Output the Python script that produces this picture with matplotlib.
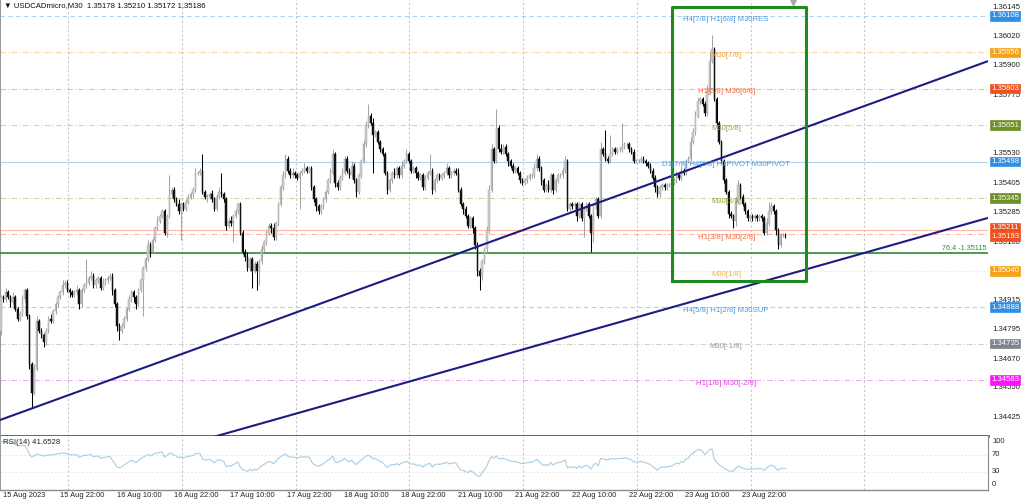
import numpy as np
import matplotlib
matplotlib.use('Agg')
import matplotlib.pyplot as plt
from matplotlib.transforms import blended_transform_factory

plt.rcParams['font.family'] = ['Liberation Sans', 'DejaVu Sans']

# ---------------- data (M30 candles, 15 Aug 2023 -> 24 Aug 2023) ----------------
first_open = 1.3479
closes = [
    1.3493, 1.3492, 1.3495, 1.3493, 1.3491, 1.3493, 1.3488, 1.3484, 1.3486, 1.3492, 1.3496, 1.3485, 1.3465, 1.3453, 1.3463, 1.3483, 1.3479, 1.3477, 1.3474, 1.3479,
    1.3484, 1.3483, 1.3487, 1.3490, 1.3493, 1.3495, 1.3498, 1.3499, 1.3496, 1.3495, 1.3494, 1.3495, 1.3496, 1.3490, 1.3496, 1.3498, 1.3499, 1.3501, 1.3502, 1.3498,
    1.3500, 1.3501, 1.3497, 1.3499, 1.3500, 1.3501, 1.3502, 1.3496, 1.3490, 1.3481, 1.3479, 1.3481, 1.3484, 1.3488, 1.3492, 1.3495, 1.3493, 1.3490, 1.3496, 1.3500,
    1.3505, 1.3509, 1.3515, 1.3512, 1.3517, 1.3522, 1.3525, 1.3527, 1.3529, 1.3520, 1.3527, 1.3536, 1.3538, 1.3534, 1.3532, 1.3529, 1.3532, 1.3530, 1.3533, 1.3535,
    1.3536, 1.3538, 1.3545, 1.3545, 1.3546, 1.3537, 1.3535, 1.3535, 1.3536, 1.3534, 1.3530, 1.3535, 1.3537, 1.3536, 1.3534, 1.3523, 1.3525, 1.3524, 1.3527, 1.3529,
    1.3532, 1.3520, 1.3512, 1.3510, 1.3505, 1.3509, 1.3504, 1.3507, 1.3504, 1.3508, 1.3513, 1.3516, 1.3520, 1.3523, 1.3522, 1.3518, 1.3524, 1.3532, 1.3539, 1.3544,
    1.3551, 1.3546, 1.3544, 1.3545, 1.3544, 1.3543, 1.3545, 1.3546, 1.3547, 1.3546, 1.3547, 1.3539, 1.3534, 1.3531, 1.3529, 1.3531, 1.3534, 1.3537, 1.3542, 1.3545,
    1.3553, 1.3541, 1.3539, 1.3543, 1.3545, 1.3551, 1.3546, 1.3544, 1.3548, 1.3542, 1.3537, 1.3544, 1.3550, 1.3557, 1.3565, 1.3569, 1.3566, 1.3561, 1.3562, 1.3558,
    1.3555, 1.3553, 1.3545, 1.3538, 1.3542, 1.3545, 1.3544, 1.3547, 1.3544, 1.3548, 1.3550, 1.3553, 1.3550, 1.3546, 1.3547, 1.3545, 1.3543, 1.3544, 1.3539, 1.3543,
    1.3545, 1.3546, 1.3538, 1.3542, 1.3544, 1.3543, 1.3544, 1.3545, 1.3547, 1.3544, 1.3545, 1.3546, 1.3545, 1.3538, 1.3532, 1.3530, 1.3527, 1.3523, 1.3526, 1.3522,
    1.3515, 1.3504, 1.3502, 1.3508, 1.3513, 1.3521, 1.3538, 1.3555, 1.3550, 1.3564, 1.3555, 1.3554, 1.3556, 1.3553, 1.3550, 1.3548, 1.3546, 1.3547, 1.3545, 1.3542,
    1.3541, 1.3542, 1.3543, 1.3544, 1.3544, 1.3547, 1.3551, 1.3547, 1.3542, 1.3538, 1.3540, 1.3538, 1.3544, 1.3538, 1.3542, 1.3544, 1.3544, 1.3546, 1.3550, 1.3530,
    1.3532, 1.3531, 1.3532, 1.3527, 1.3532, 1.3526, 1.3530, 1.3532, 1.3527, 1.3520, 1.3531, 1.3534, 1.3527, 1.3555, 1.3553, 1.3551, 1.3550, 1.3553, 1.3555, 1.3554,
    1.3555, 1.3555, 1.3556, 1.3557, 1.3557, 1.3555, 1.3554, 1.3550, 1.3550, 1.3550, 1.3551, 1.3550, 1.3549, 1.3548, 1.3546, 1.3543, 1.3539, 1.3536, 1.3539, 1.3540,
    1.3539, 1.3540, 1.3540, 1.3541, 1.3542, 1.3544, 1.3543, 1.3546, 1.3545, 1.3550, 1.3551, 1.3558, 1.3562, 1.3569, 1.3575, 1.3576, 1.3574, 1.3570, 1.3579, 1.3592,
    1.3597, 1.3576, 1.3566, 1.3558, 1.3550, 1.3542, 1.3537, 1.3528, 1.3527, 1.3525, 1.3533, 1.3540, 1.3535, 1.3532, 1.3529, 1.3526, 1.3527, 1.3526, 1.3527, 1.3526,
    1.3527, 1.3526, 1.3520, 1.3524, 1.3529, 1.3531, 1.3529, 1.3521, 1.3515, 1.3519, 1.3519, 1.35186,
]
upper_wick_pips = [
    1, 1, 2, 1, 1, 2, 1, 1, 1, 2, 1, 1, 1, 1, 2, 2, 1, 1, 1, 1,
    1, 2, 1, 1, 1, 1, 2, 1, 1, 1, 1, 1, 2, 1, 1, 1, 10, 1, 2, 1,
    1, 1, 1, 2, 1, 1, 1, 1, 1, 1, 1, 1, 1, 1, 2, 1, 1, 1, 1, 1,
    1, 1, 2, 1, 1, 1, 2, 1, 1, 1, 1, 8, 1, 1, 1, 2, 1, 1, 1, 1,
    1, 1, 2, 1, 1, 7, 1, 1, 1, 2, 1, 1, 2, 8, 1, 1, 1, 2, 1, 1,
    1, 1, 1, 1, 2, 1, 1, 1, 1, 1, 2, 1, 1, 1, 1, 2, 1, 1, 1, 2,
    2, 1, 1, 2, 1, 1, 1, 1, 2, 1, 1, 1, 1, 1, 1, 1, 1, 1, 1, 2,
    2, 1, 1, 1, 2, 1, 1, 1, 2, 1, 1, 1, 1, 2, 2, 5, 1, 2, 1, 1,
    1, 1, 1, 1, 1, 1, 2, 1, 1, 2, 1, 2, 1, 1, 1, 1, 1, 1, 1, 1,
    1, 7, 1, 1, 1, 1, 1, 1, 2, 1, 1, 1, 1, 2, 1, 1, 1, 1, 1, 1,
    1, 1, 1, 1, 1, 2, 2, 2, 1, 8, 1, 2, 1, 1, 1, 1, 1, 1, 1, 1,
    1, 1, 1, 1, 1, 2, 2, 1, 1, 1, 1, 2, 1, 1, 1, 1, 1, 1, 2, 1,
    1, 1, 1, 1, 1, 1, 1, 1, 1, 1, 1, 1, 1, 3, 1, 10, 1, 8, 1, 1,
    1, 1, 10, 1, 1, 1, 1, 1, 1, 1, 1, 1, 1, 1, 1, 1, 1, 1, 1, 1,
    1, 1, 1, 1, 1, 2, 1, 2, 1, 1, 1, 2, 2, 2, 2, 1, 1, 1, 3, 4,
    6, 1, 1, 1, 1, 1, 1, 1, 1, 1, 2, 2, 1, 1, 1, 1, 1, 1, 1, 1,
    1, 1, 1, 2, 4, 2, 1, 1, 1, 1, 1, 1,
]
lower_wick_pips = [
    2, 1, 1, 1, 2, 1, 1, 1, 1, 1, 1, 1, 2, 6, 1, 1, 1, 1, 2, 1,
    1, 1, 1, 1, 1, 1, 1, 1, 1, 2, 1, 1, 1, 2, 1, 1, 1, 1, 1, 1,
    1, 1, 1, 1, 1, 1, 1, 2, 1, 2, 4, 1, 1, 1, 1, 1, 2, 2, 1, 1,
    15, 1, 1, 2, 1, 1, 1, 1, 1, 1, 2, 1, 1, 1, 1, 1, 12, 1, 1, 1,
    1, 1, 1, 1, 1, 1, 1, 2, 1, 1, 1, 1, 1, 1, 1, 2, 1, 1, 8, 1,
    1, 1, 1, 2, 1, 1, 7, 1, 8, 6, 1, 1, 1, 1, 2, 1, 1, 1, 1, 1,
    1, 1, 1, 1, 1, 1, 13, 1, 1, 1, 1, 1, 1, 2, 1, 1, 1, 1, 1, 1,
    1, 2, 1, 1, 1, 1, 1, 1, 1, 1, 2, 1, 1, 1, 1, 1, 1, 16, 1, 1,
    1, 1, 1, 2, 1, 1, 1, 1, 1, 1, 1, 1, 1, 1, 1, 2, 1, 1, 1, 1,
    1, 1, 2, 1, 1, 1, 1, 1, 1, 1, 1, 1, 1, 1, 1, 2, 1, 1, 1, 2,
    2, 2, 6, 2, 1, 1, 1, 1, 1, 1, 1, 1, 1, 1, 2, 1, 1, 1, 1, 1,
    1, 1, 1, 1, 1, 1, 1, 1, 2, 1, 1, 1, 1, 2, 1, 1, 1, 1, 1, 1,
    1, 1, 1, 2, 1, 1, 8, 1, 1, 8, 4, 1, 1, 1, 1, 1, 1, 1, 1, 1,
    1, 1, 1, 1, 1, 1, 1, 1, 1, 1, 1, 1, 1, 1, 1, 1, 2, 1, 1, 1,
    1, 1, 1, 1, 1, 1, 1, 1, 1, 1, 1, 1, 1, 1, 1, 1, 1, 1, 1, 1,
    1, 1, 1, 1, 1, 1, 1, 2, 1, 3, 2, 1, 1, 1, 1, 1, 1, 1, 1, 1,
    1, 1, 1, 1, 1, 1, 1, 2, 2, 1, 1, 1,
]

time_labels = ['15 Aug 2023', '15 Aug 22:00', '16 Aug 10:00', '16 Aug 22:00', '17 Aug 10:00',
               '17 Aug 22:00', '18 Aug 10:00', '18 Aug 22:00', '21 Aug 10:00', '21 Aug 22:00',
               '22 Aug 10:00', '22 Aug 22:00', '23 Aug 10:00', '23 Aug 22:00']
label_bar_step = 24
day_grid_bars = [28.3, 76.3, 124.3, 172.3, 220.3, 268.3, 316.3, 364.3]

price_ticks = [1.36145, 1.36020, 1.35900, 1.35775, 1.35530, 1.35405, 1.35285, 1.35160,
               1.34915, 1.34795, 1.34670, 1.34550, 1.34425]

level_prices = [1.36108, 1.35956, 1.35803, 1.35651, 1.35498, 1.35345, 1.35211, 1.35193,
                1.35040, 1.34888, 1.34735, 1.34583]
level_texts = ['H4[7/8] H1[6/8] M30RES', 'M30[7/8]', 'H1[5/8] M30[6/8]', 'M30[5/8]',
               'D1[7/8] H4[6/8] H1PIVOT M30PIVOT', 'M30[3/8]', '', 'H1[3/8] M30[2/8]',
               'M30[1/8]', 'H4[5/8] H1[2/8] M30SUP', 'M30[-1/8]', 'H1[1/8] M30[-2/8]']
level_text_colors = ['#4a9be0', '#f0a030', '#f06a40', '#8fa840', '#4a9be0', '#8fa840', '#f06a40',
                     '#f06a40', '#f5b040', '#4a9be0', '#9a9a9a', '#e040e0']
level_box_colors = ['#2f8fe6', '#f5a21a', '#f0501e', '#6f8f2a', '#2f8fe6', '#6f8f2a', '#f0501e',
                    '#f0501e', '#f5a21a', '#2f8fe6', '#7a8590', '#ff10ff']
level_styles = [(0, (4, 3)), (0, (5, 2, 1, 2)), (0, (5, 2, 1, 2)), (0, (5, 2, 1, 2)), '-',
                (0, (5, 2, 1, 2)), '-', (0, (5, 2, 1, 2)), (0, (1, 2)), (0, (4, 3)),
                (0, (5, 2, 1, 2)), (0, (5, 2, 1, 2))]
# small vertical nudges (points) for the two crowded right-hand price boxes
box_nudge_pt = [0, 0, 0, 0, 0, 0, 1.6, -1.6, 0, 0, 0, 0]

fib_price = 1.35115
fib_text = '76.4 -1.35115'
box_bars = (283.1, 339.7)
box_prices = (1.34998, 1.36146)
trend1 = ((-0.42, 1.34415), (416.5, 1.35919))
trend2 = ((90.0, 1.34345), (416.5, 1.35262))
title_text = '\u25BC USDCADmicro,M30  1.35178 1.35210 1.35172 1.35186'
rsi_text = 'RSI(14) 41.6528'
rsi_ticks = [100, 70, 30, 0]

# ---------------- derived candle arrays ----------------
c = np.array(closes)
n = len(c)
xb = np.arange(n)
o = np.r_[first_open, c[:-1]]
hi = np.maximum(o, c) + np.array(upper_wick_pips) * 1e-4
lo = np.minimum(o, c) - np.array(lower_wick_pips) * 1e-4
bull = c >= o

# RSI(14), Wilder smoothing
d = np.diff(np.r_[first_open, c])
gain = np.clip(d, 0, None)
loss = np.clip(-d, 0, None)
ag = np.zeros(n); al = np.zeros(n)
ag[0] = gain[0] if gain[0] > 0 else 1e-5
al[0] = loss[0] if loss[0] > 0 else 1e-5
for i in range(1, n):
    ag[i] = (ag[i-1] * 13 + gain[i]) / 14
    al[i] = (al[i-1] * 13 + loss[i]) / 14
rsi = 100 - 100 / (1 + ag / al)

# ---------------- figure ----------------
W, H = 1024, 500
fig = plt.figure(figsize=(W/100, H/100), dpi=100)
fig.patch.set_facecolor('white')
ax = fig.add_axes([0, 64/H, 988/W, 436/H])
axr = fig.add_axes([0, 10/H, 988/W, 54/H])

xlim = (-0.42, 416.46)
ax.set_xlim(*xlim)
ax.set_ylim(1.34348, 1.36175)
axr.set_xlim(*xlim)
axr.set_ylim(-11.5, 112.6)

for a in (ax, axr):
    a.set_xticks([]); a.set_yticks([])
    for s in ('top', 'left', 'right', 'bottom'):
        a.spines[s].set_visible(False)
    for gx in day_grid_bars:
        a.axvline(gx, color='#c8c8c8', lw=0.8, ls=(0, (2, 2)), zorder=0)

ax.spines['left'].set_visible(True); ax.spines['left'].set_color('#9a9a9a'); ax.spines['left'].set_linewidth(1.5)
ax.spines['bottom'].set_visible(True); ax.spines['bottom'].set_color('#3a3a3a'); ax.spines['bottom'].set_linewidth(1.8)
axr.spines['left'].set_visible(True); axr.spines['left'].set_color('#9a9a9a'); axr.spines['left'].set_linewidth(1.5)
axr.spines['bottom'].set_visible(True); axr.spines['bottom'].set_color('#8a8a8a'); axr.spines['bottom'].set_linewidth(1.0)
axr.spines['right'].set_visible(True); axr.spines['right'].set_color('#8a8a8a'); axr.spines['right'].set_linewidth(0.8)

# level lines
for p, col, ls in zip(level_prices, level_text_colors, level_styles):
    ax.axhline(p, color=col, lw=0.8, ls=ls, alpha=0.45, zorder=1)

# fib line
ax.axhline(fib_price, color='#2e8b2e', lw=1.2, zorder=3)
ax.annotate(fib_text, xy=(1.0, fib_price), xycoords=blended_transform_factory(ax.transAxes, ax.transData),
            xytext=(-1, 3), textcoords='offset points', ha='right', va='center', fontsize=5.2, color='#2e8b2e')

# candles
wick_cols = np.where(bull, '#a4a4a4', '#000000')
ax.vlines(xb, lo, hi, colors=wick_cols, lw=0.75, zorder=4)
body_b = np.minimum(o, c)
body_h = np.maximum(np.abs(c - o), 0.00002)
ax.bar(xb[bull], body_h[bull], bottom=body_b[bull], width=0.64, color='#cccccc', edgecolor='#a8a8a8', lw=0.35, zorder=5)
ax.bar(xb[~bull], body_h[~bull], bottom=body_b[~bull], width=0.64, color='#111111', edgecolor='#111111', lw=0.35, zorder=5)

# trend lines
for (x1, y1), (x2, y2) in (trend1, trend2):
    ax.plot([x1, x2], [y1, y2], color='#1c1c82', lw=1.5, zorder=6, solid_capstyle='butt')

# green rectangle
ax.plot([box_bars[0], box_bars[1], box_bars[1], box_bars[0], box_bars[0]],
        [box_prices[0], box_prices[0], box_prices[1], box_prices[1], box_prices[0]],
        color='#1f8a1f', lw=2.2, zorder=7)

# level labels in chart
for p, t, col in zip(level_prices, level_texts, level_text_colors):
    if t:
        ax.annotate(t, xy=(306, p), xytext=(0, -2.3), textcoords='offset points',
                    ha='center', va='center', fontsize=5.6, color=col, zorder=8)

# marker triangle at top
ax.plot([334.2], [1.36168], marker='v', color='#a8a8a8', ms=5, zorder=8)

# right axis labels
bt = blended_transform_factory(ax.transAxes, ax.transData)
for p in price_ticks:
    ax.text(1 + 4/988, p, f'{p:.5f}', transform=bt, ha='left', va='center', fontsize=5.6,
            color='#222222', clip_on=False)
for p, bc, nd in zip(level_prices, level_box_colors, box_nudge_pt):
    ax.annotate(f'{p:.5f}', xy=(1 + 3/988, p), xycoords=bt, xytext=(0, nd), textcoords='offset points',
                ha='left', va='center', fontsize=5.6, color='white', annotation_clip=False, zorder=10,
                bbox=dict(boxstyle='square,pad=0.15', fc=bc, ec=bc, lw=0.5))

# title
fig.text(4/W, 1 - 6/H, title_text, ha='left', va='center', fontsize=5.6, color='#111111')

# RSI panel
axr.plot(xb, rsi, color='#a9cde3', lw=0.8, zorder=3)
for lv in (70, 30):
    axr.axhline(lv, color='#e6e6e6', lw=0.7, ls=(0, (2, 2)), zorder=1)
axr.text(3/988, 0.885, rsi_text, transform=axr.transAxes, ha='left', va='center', fontsize=5.6, color='#222222')
btr = blended_transform_factory(axr.transAxes, axr.transData)
for v in rsi_ticks:
    axr.text(1 + 4/988, v, str(v), transform=btr, ha='left', va='center', fontsize=5.4,
             color='#222222', clip_on=False)

# time labels
btx = blended_transform_factory(axr.transData, axr.transAxes)
for k, lab in enumerate(time_labels):
    bx = k * label_bar_step
    axr.text(bx + 0.8, -5.5/54, lab, transform=btx, ha='left', va='center', fontsize=5.4,
             color='#222222', clip_on=False)

fig.savefig('out.png', dpi=100, facecolor='white')
